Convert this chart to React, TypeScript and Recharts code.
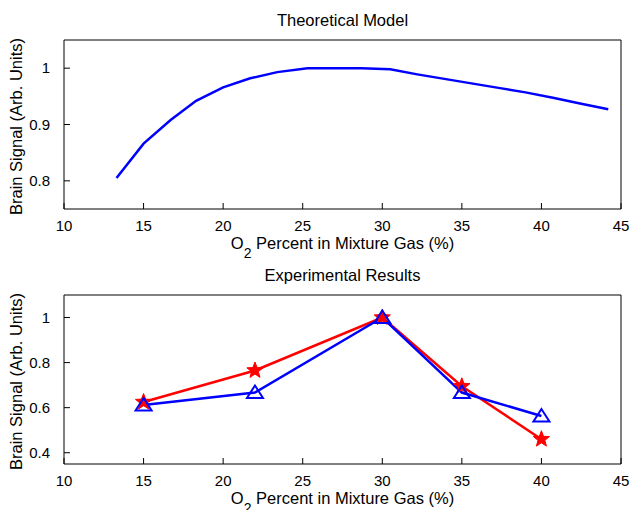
import React from 'react';
import { LineChart, Line, XAxis, YAxis, Label } from 'recharts';

// ---- data ----
const theoryX = [13.3, 15.0, 16.7, 18.3, 20.0, 21.7, 23.4, 25.3, 27.0, 28.7, 30.5, 32.2, 33.9, 35.6, 37.3, 39.0, 40.8, 42.5, 44.2];
const theoryY = [0.805, 0.866, 0.908, 0.942, 0.966, 0.982, 0.993, 1.0, 1.0, 1.0, 0.998, 0.989, 0.981, 0.973, 0.965, 0.957, 0.947, 0.937, 0.927];

const expX = [15, 22, 30, 35, 40];
const redY = [0.625, 0.765, 1.0, 0.695, 0.46];
const blueY = [0.612, 0.667, 1.0, 0.667, 0.563];

const xTicks = [10, 15, 20, 25, 30, 35, 40, 45];
const topYTicks = [0.8, 0.9, 1];
const botYTicks = [0.4, 0.6, 0.8, 1];

const topTitle = 'Theoretical Model';
const botTitle = 'Experimental Results';
const yLabel = 'Brain Signal (Arb. Units)';
const xLabelMain = 'O';
const xLabelSub = '2';
const xLabelRest = ' Percent in Mixture Gas (%)';

const theoryData = theoryX.map((x, i) => ({ x, y: theoryY[i] }));
const expData = expX.map((x, i) => ({ x, red: redY[i], blue: blueY[i] }));

// ---- styles ----
const FONT = '"Liberation Sans", Arial, Helvetica, sans-serif';
const BLUE = '#0000ff';
const RED = '#ff0000';
const W = 630;
const H = 255;

const StarDot = (props: any) => {
  const { cx, cy, index } = props;
  if (cx == null || cy == null) return <g key={`s${index}`} />;
  const R = 8.5;
  const r = 3.6;
  const pts: string[] = [];
  for (let k = 0; k < 10; k++) {
    const rad = k % 2 === 0 ? R : r;
    const a = -Math.PI / 2 + (k * Math.PI) / 5;
    pts.push(`${cx + rad * Math.cos(a)},${cy + rad * Math.sin(a)}`);
  }
  return <polygon key={`s${index}`} points={pts.join(' ')} fill={RED} stroke={RED} strokeWidth={1} />;
};

const TriDot = (props: any) => {
  const { cx, cy, index } = props;
  if (cx == null || cy == null) return <g key={`t${index}`} />;
  const pts = `${cx},${cy - 7} ${cx - 8},${cy + 5.5} ${cx + 8},${cy + 5.5}`;
  return <polygon key={`t${index}`} points={pts} fill="none" stroke={BLUE} strokeWidth={2} strokeLinejoin="miter" />;
};

const TitleContent = (title: string) => (props: any) => {
  const vb = props.viewBox || {};
  return (
    <text x={vb.x + vb.width / 2} y={26} textAnchor="middle" fontFamily={FONT} fontSize={16.5} fill="#000">
      {title}
    </text>
  );
};

const XLabelContent = (props: any) => {
  const vb = props.viewBox || {};
  return (
    <text x={vb.x + vb.width / 2} y={vb.y + 40} textAnchor="middle" fontFamily={FONT} fontSize={16.5} fill="#000">
      <tspan>{xLabelMain}</tspan>
      <tspan fontSize={14} dy={9}>{xLabelSub}</tspan>
      <tspan dy={-9}>{xLabelRest}</tspan>
    </text>
  );
};

const YLabelContent = (props: any) => {
  const vb = props.viewBox || {};
  const cx = vb.x + 22;
  const cy = vb.y + vb.height / 2 + 2;
  return (
    <text
      x={cx}
      y={cy}
      textAnchor="middle"
      transform={`rotate(-90 ${cx} ${cy})`}
      fontFamily={FONT}
      fontSize={16.5}
      fill="#000"
    >
      {yLabel}
    </text>
  );
};

const tickStyle = { fill: '#000', fontSize: 15, fontFamily: FONT };
const margin = { top: 39, right: 8, bottom: 0, left: 0 };

export default function App() {
  const axes = (yDomain: [number, number], yTicks: number[], title: string) => [
    <XAxis
      key="xb"
      xAxisId="b"
      dataKey="x"
      type="number"
      domain={[10, 45]}
      ticks={xTicks}
      allowDataOverflow
      height={46}
      tickSize={-6}
      tickMargin={17}
      tick={tickStyle}
      stroke="#000"
      axisLine={{ stroke: '#000', strokeWidth: 1 }}
      tickLine={{ stroke: '#000', strokeWidth: 1 }}
    >
      <Label content={XLabelContent} />
    </XAxis>,
    <XAxis
      key="xt"
      xAxisId="t"
      orientation="top"
      dataKey="x"
      type="number"
      domain={[10, 45]}
      ticks={xTicks}
      allowDataOverflow
      height={1}
      tickSize={-6}
      tick={false}
      stroke="#000"
      axisLine={{ stroke: '#000', strokeWidth: 1 }}
      tickLine={{ stroke: '#000', strokeWidth: 1 }}
    >
      <Label content={TitleContent(title)} />
    </XAxis>,
    <YAxis
      key="yl"
      yAxisId="l"
      type="number"
      domain={yDomain}
      ticks={yTicks}
      allowDataOverflow
      width={64}
      tickSize={-6}
      tickMargin={20}
      tick={tickStyle}
      stroke="#000"
      axisLine={{ stroke: '#000', strokeWidth: 1 }}
      tickLine={{ stroke: '#000', strokeWidth: 1 }}
    >
      <Label content={YLabelContent} />
    </YAxis>,
    <YAxis
      key="yr"
      yAxisId="r"
      orientation="right"
      type="number"
      domain={yDomain}
      ticks={yTicks}
      allowDataOverflow
      width={1}
      tickSize={-6}
      tick={false}
      stroke="#000"
      axisLine={{ stroke: '#000', strokeWidth: 1 }}
      tickLine={{ stroke: '#000', strokeWidth: 1 }}
    />,
  ];

  return (
    <div style={{ position: 'absolute', left: 0, top: 0, width: W, height: 2 * H, background: '#fff', overflow: 'hidden' }}>
      <style>{`.recharts-surface{overflow:visible}.recharts-wrapper{overflow:visible}`}</style>
      <div style={{ position: 'absolute', left: 0, top: H, width: W, height: H }}>
        <LineChart width={W} height={H} data={expData} margin={margin}>
          {axes([0.35, 1.1], botYTicks, botTitle)}
          <Line
            xAxisId="b"
            yAxisId="l"
            dataKey="red"
            stroke={RED}
            strokeWidth={2.5}
            dot={StarDot}
            activeDot={false}
            isAnimationActive={false}
            type="linear"
          />
          <Line
            xAxisId="b"
            yAxisId="l"
            dataKey="blue"
            stroke={BLUE}
            strokeWidth={2.5}
            dot={TriDot}
            activeDot={false}
            isAnimationActive={false}
            type="linear"
          />
        </LineChart>
      </div>
      <div style={{ position: 'absolute', left: 0, top: 0, width: W, height: H }}>
        <LineChart width={W} height={H} data={theoryData} margin={margin}>
          {axes([0.75, 1.05], topYTicks, topTitle)}
          <Line
            xAxisId="b"
            yAxisId="l"
            dataKey="y"
            stroke={BLUE}
            strokeWidth={2.5}
            dot={false}
            activeDot={false}
            isAnimationActive={false}
            type="linear"
          />
        </LineChart>
      </div>
    </div>
  );
}
